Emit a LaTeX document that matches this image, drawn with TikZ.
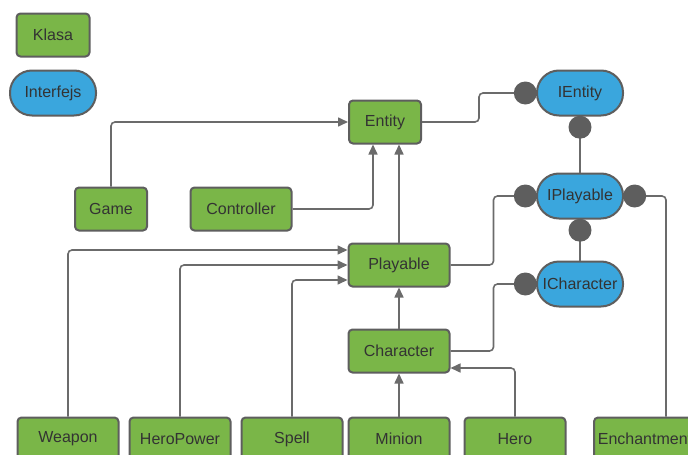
\documentclass[tikz,border=0pt]{standalone}
\usepackage{fontspec}
\setmainfont{Liberation Sans}
\usetikzlibrary{arrows.meta,positioning}
\definecolor{zielony}{HTML}{7AB648}
\definecolor{niebieski}{HTML}{3AA6DD}
\definecolor{ramka}{HTML}{5E5E5E}
\definecolor{linia}{HTML}{6B6B6B}
\definecolor{tekst}{HTML}{333333}
\tikzset{
	klasa/.style={draw=ramka,line width=2pt,fill=zielony,rounded corners=4pt,minimum width=101pt,minimum height=43pt,inner sep=0pt,text=tekst,font=\fontsize{16}{18}\selectfont},
	interfejs/.style={klasa,fill=niebieski,rounded corners=22pt,minimum width=86pt,minimum height=45pt},
	dot/.style={circle,fill=ramka,minimum size=23pt,inner sep=0pt},
	line/.style={draw=linia,line width=1.6pt,rounded corners=4pt},
	arr/.style={line,-{Triangle[length=10pt,width=9pt]}},
}
\begin{document}
\begin{tikzpicture}[x=1pt,y=-1pt]
			\useasboundingbox (0,0) rectangle (688,455);
			\clip (0,0) rectangle (688,455);
			% legenda
			\node[klasa,minimum width=73pt] (klasa) at (53,35) {Klasa};
			\node[interfejs] (interfejs) at (53,93) {Interfejs};
			% klasy
			\node[klasa,minimum width=72pt] (entity) at (385,122) {Entity};
			\node[klasa,minimum width=72pt] (game) at (111,209) {Game};
			\node[klasa] (controller) at (241,209) {Controller};
			\node[klasa] (playable) at (399,265) {Playable};
			\node[klasa] (character) at (399,351) {Character};
			\node[klasa] (weapon) at (68,439) {Weapon};
			\node[klasa] (heropower) at (180,439) {HeroPower};
			\node[klasa] (spell) at (292,439) {Spell};
			\node[klasa] (minion) at (399,439) {Minion};
			\node[klasa] (hero) at (515,439) {Hero};
			\node[klasa,minimum width=102pt] (enchantment) at (645,439) {Enchantment};
			% interfejsy
			\node[interfejs] (ientity) at (580,93) {IEntity};
			\node[interfejs] (iplayable) at (580,196) {IPlayable};
			\node[interfejs] (icharacter) at (580,284) {ICharacter};
			% dziedziczenie
			\draw[arr] (game.north) |- (entity.west);
			\draw[arr] (controller.east) -| ([xshift=-12pt]entity.south);
			\draw[arr] (playable.north) -- (playable.north |- entity.south);
			\draw[arr] (weapon.north) |- ([yshift=15pt]playable.west);
			\draw[arr] (heropower.north) |- (playable.west);
			\draw[arr] (spell.north) |- ([yshift=-15pt]playable.west);
			\draw[arr] (character.north) -- (playable.south);
			\draw[arr] (minion.north) -- (character.south);
			\draw[arr] (hero.north) |- ([yshift=-17pt]character.east);
			% implementacja
			\draw[line] (entity.east) -- ++(57,0) |- (580-57,93);
			\draw[line] (ientity.south) -- (iplayable.north);
			\draw[line] (iplayable.south) -- (icharacter.north);
			\draw[line] (playable.east) -- ++(43,0) |- (580-57,196);
			\draw[line] (character.east) -- ++(43,0) |- (580-57,284);
			\draw[line] (580+57,196) -| ([xshift=21pt]enchantment.north);
			\node[dot,left=-1pt of ientity] (ientityL) {};
			\node[dot,below=-1pt of ientity] (ientityB) {};
			\node[dot,left=-1pt of iplayable] (iplayableL) {};
			\node[dot,right=-1pt of iplayable] (iplayableR) {};
			\node[dot,below=-1pt of iplayable] (iplayableB) {};
			\node[dot,left=-1pt of icharacter] (icharacterL) {};
\end{tikzpicture}
\end{document}
